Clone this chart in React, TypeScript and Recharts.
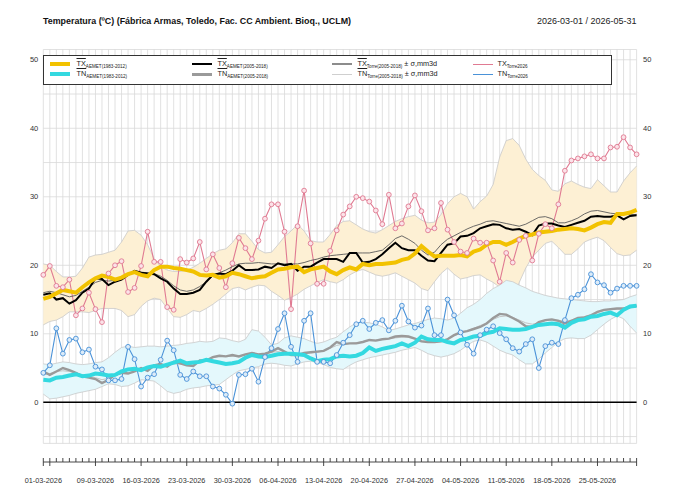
import React from 'react';
import {
  Area,
  CartesianGrid,
  ComposedChart,
  Line,
  ReferenceLine,
  XAxis,
  YAxis,
} from 'recharts';

// ---- data (one per day 01-03 .. 31-05) ----
const startDate = '2026-03-01';
const tickLabels = [
  '01-03-2026', '09-03-2026', '16-03-2026', '23-03-2026', '30-03-2026', '06-04-2026', '13-04-2026',
  '20-04-2026', '27-04-2026', '04-05-2026', '11-05-2026', '18-05-2026', '25-05-2026',
];
const yTicks = [-5, 0, 5, 10, 15, 20, 25, 30, 35, 40, 45, 50];

const txAemet8312 = [
  15.1, 15.4, 15.9, 16.4, 16.2, 16.0, 16.8, 17.5, 18.1, 18.5,
  18.3, 17.9, 18.2, 18.7, 19.0, 18.6, 18.4, 19.3, 19.8, 19.8,
  19.6, 19.5, 19.3, 19.1, 18.6, 18.5, 18.6, 18.2, 18.4, 18.9,
  18.7, 18.4, 18.1, 18.3, 18.4, 18.9, 19.4, 19.5, 19.7, 19.8,
  19.0, 19.4, 19.6, 19.8, 19.1, 18.7, 19.3, 19.7, 19.4, 20.2,
  20.0, 20.2, 20.2, 20.3, 20.4, 20.8, 21.0, 21.7, 22.8, 22.0,
  21.3, 21.4, 21.4, 21.4, 21.5, 21.3, 22.0, 22.3, 23.0, 23.4,
  23.4, 23.0, 23.4, 23.9, 24.3, 24.5, 24.8, 24.9, 25.0, 25.2,
  25.3, 25.4, 25.3, 25.1, 25.5, 26.0, 26.3, 26.2, 27.5, 27.5,
  27.7, 28.1,
];
const tnAemet8312 = [
  3.3, 3.2, 3.6, 3.7, 3.9, 4.1, 3.8, 3.9, 4.2, 4.1,
  3.9, 4.0, 4.5, 4.8, 4.9, 4.7, 5.1, 5.3, 5.2, 5.5,
  5.8, 6.1, 5.7, 5.8, 5.9, 6.2, 6.0, 5.8, 5.6, 5.7,
  5.9, 6.5, 6.9, 6.7, 6.6, 6.8, 7.0, 7.1, 7.1, 7.0,
  6.9, 6.4, 6.0, 6.2, 6.3, 6.7, 6.8, 6.7, 6.8, 7.2,
  8.0, 7.5, 7.8, 8.0, 8.2, 8.6, 8.2, 8.7, 9.6, 9.2,
  9.1, 9.1, 8.8, 8.6, 9.1, 9.3, 9.6, 9.7, 10.1, 10.3,
  10.8, 10.7, 10.6, 10.6, 10.7, 11.0, 11.3, 11.4, 11.5, 11.4,
  10.9, 11.6, 12.0, 12.1, 12.5, 12.6, 12.9, 13.1, 12.7, 13.5,
  14.0, 14.1,
];
const txAemet0518 = [
  15.7, 15.9, 15.0, 15.2, 14.4, 14.9, 16.0, 16.6, 18.1, 18.0,
  17.1, 17.6, 17.9, 18.6, 19.2, 18.9, 18.8, 18.7, 18.1, 17.6,
  16.6, 15.8, 15.8, 16.0, 16.4, 17.6, 18.6, 18.8, 18.7, 19.2,
  20.0, 19.3, 19.3, 19.4, 19.8, 19.6, 20.3, 20.0, 20.2, 19.2,
  19.8, 19.8, 20.4, 20.9, 20.9, 20.9, 20.5, 21.8, 21.8, 20.4,
  20.5, 20.9, 21.6, 22.5, 23.3, 22.5, 22.2, 22.2, 21.4, 20.7,
  20.6, 21.8, 23.0, 23.2, 24.2, 24.3, 24.7, 25.4, 25.7, 26.0,
  25.9, 25.4, 25.2, 25.3, 24.9, 24.4, 25.8, 26.1, 26.1, 25.8,
  25.6, 25.9, 26.2, 26.5, 27.1, 27.2, 27.1, 27.1, 27.3, 26.7,
  27.2, 27.3,
];
const tnAemet0518 = [
  4.5, 4.0, 4.5, 5.0, 4.7, 4.3, 3.8, 3.6, 3.4, 2.8,
  3.3, 4.0, 4.3, 4.2, 4.5, 5.0, 4.6, 5.4, 5.6, 5.2,
  5.9, 5.7, 5.4, 5.3, 6.1, 6.1, 6.6, 6.8, 6.7, 6.9,
  6.7, 7.0, 7.2, 7.0, 7.1, 7.4, 7.9, 7.4, 6.9, 6.9,
  7.2, 7.3, 7.4, 7.5, 8.0, 8.8, 8.5, 8.6, 8.6, 8.8,
  9.1, 9.0, 9.2, 9.3, 9.6, 9.7, 9.6, 9.3, 8.9, 8.8,
  8.8, 8.9, 9.2, 9.8, 10.2, 10.4, 10.7, 11.0, 11.5, 12.3,
  12.9, 12.8, 12.3, 11.8, 11.1, 11.0, 11.7, 12.0, 12.1, 11.9,
  11.5, 11.9, 12.3, 12.4, 12.7, 13.2, 13.5, 13.6, 13.7, 13.7,
  13.9, 14.1,
];
const txTorreMean = [
  16.0, 16.2, 16.0, 15.7, 15.4, 15.6, 16.2, 16.8, 17.5, 17.8,
  17.7, 17.8, 18.1, 18.6, 19.0, 19.0, 18.9, 18.8, 18.4, 17.8,
  17.0, 16.4, 16.2, 16.4, 16.9, 17.6, 18.4, 18.9, 19.3, 19.8,
  20.2, 20.3, 20.3, 20.4, 20.3, 20.2, 20.2, 20.2, 20.2, 20.2,
  20.4, 20.7, 20.9, 21.2, 21.4, 21.5, 21.6, 21.7, 21.8, 21.8,
  21.8, 22.0, 22.2, 23.0, 23.9, 24.3, 23.8, 23.2, 22.2, 21.5,
  21.9, 23.0, 23.8, 24.3, 24.8, 25.3, 25.7, 26.0, 26.4, 26.5,
  26.3, 26.1, 25.9, 25.7, 26.0, 26.5, 27.0, 27.1, 26.8, 26.2,
  26.2, 26.5, 26.9, 27.5, 27.9, 28.0, 27.8, 27.6, 27.5, 27.5,
  27.4, 27.4,
];
const txTorreHi = [
  20.2, 20.0, 19.1, 18.3, 18.3, 18.4, 19.6, 21.2, 21.5, 21.6,
  21.9, 22.2, 23.4, 25.0, 25.1, 24.4, 23.0, 21.0, 19.8, 19.3,
  19.1, 19.1, 19.3, 19.7, 20.3, 21.0, 21.7, 22.2, 22.4, 23.3,
  24.6, 24.6, 23.5, 22.3, 21.8, 21.9, 23.0, 24.2, 25.0, 26.0,
  25.0, 23.6, 23.4, 23.4, 24.5, 25.8, 26.4, 26.5, 25.9, 25.3,
  24.9, 24.7, 25.2, 25.8, 26.4, 26.8, 27.1, 27.3, 26.6, 26.2,
  26.3, 27.4, 29.0, 30.0, 30.5, 30.0, 28.2, 29.3, 30.1, 31.8,
  35.8, 38.2, 38.5, 37.5, 35.5, 34.0, 33.1, 32.4, 31.0, 30.8,
  31.9, 32.3, 31.8, 31.4, 31.2, 32.5, 31.6, 30.7, 30.7, 32.3,
  33.5, 34.5,
];
const txTorreLo = [
  11.3, 11.8, 12.0, 12.5, 13.2, 13.2, 13.2, 13.1, 13.4, 13.7,
  13.7, 13.7, 13.4, 12.5, 12.8, 14.0, 14.8, 15.2, 15.0, 13.7,
  12.5, 12.4, 12.8, 13.4, 13.2, 13.7, 14.3, 15.0, 15.8, 16.6,
  16.8, 16.4, 16.8, 17.1, 17.0, 16.2, 15.6, 14.9, 15.3, 15.8,
  16.5, 17.0, 17.5, 17.9, 17.6, 17.4, 17.9, 18.6, 19.1, 19.4,
  19.0, 18.6, 18.4, 18.6, 18.9, 18.4, 17.9, 17.4, 16.6, 16.3,
  17.6, 18.8, 19.6, 18.7, 18.0, 18.2, 18.5, 18.6, 18.0, 17.5,
  16.8, 15.0, 15.1, 17.5, 19.6, 21.2, 22.2, 23.2, 23.5, 22.6,
  21.6, 21.6, 22.4, 23.4, 23.8, 24.1, 23.6, 22.6, 21.7, 21.4,
  21.5, 22.2,
];
const tnTorreMean = [
  4.0, 4.2, 4.5, 4.6, 4.5, 4.3, 4.0, 3.8, 3.6, 3.3,
  3.5, 3.9, 4.2, 4.3, 4.5, 4.8, 4.9, 5.1, 5.3, 5.4,
  5.6, 5.6, 5.5, 5.6, 5.9, 6.2, 6.5, 6.7, 6.7, 6.7,
  6.8, 6.9, 7.0, 7.0, 7.1, 7.3, 7.4, 7.2, 7.0, 7.0,
  7.1, 7.2, 7.3, 7.5, 7.9, 8.3, 8.5, 8.6, 8.7, 8.8,
  9.0, 9.1, 9.2, 9.3, 9.4, 9.5, 9.5, 9.3, 9.0, 8.9,
  8.9, 9.0, 9.3, 9.7, 10.1, 10.4, 10.8, 11.2, 11.6, 12.1,
  12.5, 12.6, 12.4, 12.0, 11.6, 11.4, 11.6, 11.9, 12.0, 12.0,
  11.8, 12.0, 12.3, 12.5, 12.8, 13.1, 13.4, 13.5, 13.6, 13.6,
  13.8, 14.0,
];
const tnTorreHi = [
  5.6, 5.5, 5.7, 5.9, 5.8, 5.6, 5.5, 5.6, 5.8, 5.9,
  6.5, 7.3, 8.0, 8.2, 8.0, 8.1, 8.2, 8.2, 8.1, 8.2,
  8.3, 8.4, 8.6, 8.7, 8.9, 8.8, 8.9, 9.4, 9.3, 9.0,
  8.8, 9.2, 10.6, 10.4, 9.5, 8.4, 8.6, 9.4, 9.7, 9.5,
  9.3, 8.9, 8.6, 8.8, 9.2, 9.5, 10.3, 11.0, 11.6, 11.7,
  11.6, 11.4, 11.0, 10.5, 10.7, 11.0, 11.3, 11.5, 11.8, 12.1,
  12.3, 12.2, 12.0, 12.3, 13.0, 13.8, 14.3, 15.0, 15.9, 16.6,
  17.1, 17.8, 17.6, 17.1, 16.7, 16.2, 15.9, 15.6, 15.4, 15.2,
  15.1, 15.0, 14.9, 14.8, 14.7, 14.7, 14.8, 14.8, 14.9, 15.0,
  15.4, 15.7,
];
const tnTorreLo = [
  1.2, 0.5, 0.6, 0.8, 1.0, 1.3, 1.5, 1.7, 1.9, 2.3,
  2.7, 2.6, 2.3, 2.4, 2.8, 3.3, 3.2, 3.1, 2.4, 1.6,
  1.3, 1.5, 1.9, 2.1, 2.2, 2.4, 2.5, 2.6, 3.3, 4.0,
  4.6, 4.8, 5.0, 5.2, 5.6, 5.7, 5.6, 5.4, 5.3, 5.6,
  5.9, 6.0, 5.8, 5.5, 5.1, 4.9, 4.8, 5.4, 5.9, 6.2,
  6.5, 6.7, 6.9, 7.1, 7.3, 7.6, 7.8, 8.0, 7.6, 7.1,
  6.8, 6.6, 6.8, 7.1, 7.6, 8.3, 8.9, 9.1, 8.8, 8.2,
  7.6, 7.2, 6.9, 6.2, 5.6, 5.6, 6.3, 7.2, 8.0, 8.8,
  9.3, 9.4, 9.3, 9.3, 9.8, 10.6, 11.4, 12.1, 12.6, 12.2,
  11.1, 10.1,
];
const txTorre2026 = [
  18.6, 19.9, 17.0, 16.8, 17.9, 12.7, 13.7, 16.0, 13.6, 11.7,
  18.8, 20.0, 20.6, 16.1, 16.7, 19.9, 24.9, 20.5, 20.5, 13.9,
  13.5, 20.9, 20.4, 21.0, 23.4, 19.4, 21.6, 19.6, 16.8, 20.3,
  24.0, 22.5, 20.9, 23.6, 26.8, 28.9, 28.9, 24.9, 13.6, 25.7,
  30.9, 23.2, 17.3, 17.3, 22.1, 25.1, 27.4, 28.6, 30.0, 29.8,
  29.3, 28.0, 26.0, 30.3, 25.4, 26.1, 28.6, 30.2, 27.9, 25.1,
  25.4, 29.1, 25.2, 23.4, 22.0, 21.8, 23.9, 23.3, 23.3, 20.7,
  17.6, 21.8, 20.4, 23.7, 24.3, 20.7, 24.6, 26.0, 25.4, 28.9,
  33.8, 35.3, 35.6, 35.9, 36.2, 35.6, 35.6, 37.2, 37.3, 38.7,
  37.2, 36.2,
];
const tnTorre2026 = [
  4.3, 5.4, 10.8, 7.1, 9.1, 9.3, 7.3, 7.7, 5.2, 4.8,
  3.2, 3.2, 3.4, 8.1, 6.3, 2.3, 3.6, 4.1, 6.2, 9.0,
  7.6, 4.0, 3.4, 4.5, 3.8, 3.8, 2.3, 2.0, 1.1, -0.2,
  4.0, 4.1, 4.9, 3.0, 6.6, 7.9, 10.7, 13.0, 8.1, 5.9,
  11.9, 13.0, 5.9, 5.9, 5.7, 6.9, 8.7, 9.8, 11.4, 11.9,
  10.7, 11.6, 12.0, 10.5, 11.9, 14.1, 11.8, 10.9, 11.2, 13.7,
  9.8, 9.8, 15.0, 12.7, 10.2, 8.4, 7.1, 9.8, 10.6, 11.1,
  10.1, 9.2, 7.9, 7.4, 8.5, 9.2, 5.0, 8.2, 8.7, 8.5,
  12.0, 15.2, 15.7, 16.5, 18.7, 17.5, 17.1, 16.0, 16.6, 17.0,
  17.0, 17.0,
];

// ---- layout ----
const W = 680;
const H = 490;
const PLOT_L = 43.3;
const PLOT_R = 636.6;
const PLOT_T = 49.5;
const PLOT_B = 443.4;
const Y_W = 30;
const X_H = 40;
const AXIS_Y = 462;
const LEGEND_R = 613;
const FONT = '"Liberation Sans", Arial, Helvetica, sans-serif';

const DAY_MS = 86400000;
const t0 = Date.parse(startDate + 'T00:00:00Z');
const days = txAemet8312.map((_, i) => i);
const lastDay = days[days.length - 1];
const dayW = (PLOT_R - PLOT_L) / lastDay;

const labelByDay = new Map<number, string>();
tickLabels.forEach((s) => {
  const [dd, mm, yy] = s.split('-').map(Number);
  labelByDay.set(Math.round((Date.UTC(yy, mm - 1, dd) - t0) / DAY_MS), s);
});
const isMonday = (d: number) => new Date(t0 + d * DAY_MS).getUTCDay() === 1;

const rows = days.map((d) => ({
  d,
  txA83: txAemet8312[d],
  tnA83: tnAemet8312[d],
  txA05: txAemet0518[d],
  tnA05: tnAemet0518[d],
  txTm: txTorreMean[d],
  tnTm: tnTorreMean[d],
  txBand: [txTorreLo[d], txTorreHi[d]],
  tnBand: [tnTorreLo[d], tnTorreHi[d]],
  tx26: txTorre2026[d],
  tn26: tnTorre2026[d],
}));

const DayTick = (props: any) => {
  const { x, payload } = props;
  const d = payload.value as number;
  const major = d === 0 || d === lastDay || isMonday(d);
  const label = labelByDay.get(d);
  return (
    <g>
      {d < lastDay && (
        <line x1={x} x2={x + dayW} y1={AXIS_Y} y2={AXIS_Y} stroke="#333" strokeWidth={0.9} />
      )}
      <line x1={x} x2={x} y1={AXIS_Y - 4} y2={major ? AXIS_Y + 4 : AXIS_Y} stroke="#333" strokeWidth={0.9} />
      {label && (
        <text x={x} y={AXIS_Y + 21} textAnchor="middle" fontSize={7.3} fill="#333" fontFamily={FONT}>
          {label}
        </text>
      )}
    </g>
  );
};

const YTick = (side: 'l' | 'r') => (props: any) => {
  const { y, payload } = props;
  const v = payload.value as number;
  if (v < 0 || v % 10 !== 0) return <g />;
  return (
    <text
      x={side === 'l' ? PLOT_L - 5 : PLOT_R + 6.5}
      y={y}
      dy={2.6}
      textAnchor={side === 'l' ? 'end' : 'start'}
      fontSize={7.5}
      fill="#333"
      fontFamily={FONT}
    >
      {v}
    </text>
  );
};

const legendRows = [64.3, 74.3];
const legendCols = [
  { lineX: 50, textX: 76 },
  { lineX: 192, textX: 217 },
  { lineX: 332, textX: 357 },
  { lineX: 473, textX: 497 },
];
const legendItems = [
  { col: 0, row: 0, color: '#f2c200', w: 4, main: 'TX', sub: 'AEMET(1983-2012)', over: true, tail: '' },
  { col: 0, row: 1, color: '#33d9e0', w: 4, main: 'TN', sub: 'AEMET(1983-2012)', over: true, tail: '' },
  { col: 1, row: 0, color: '#000000', w: 2.2, main: 'TX', sub: 'AEMET(2005-2018)', over: true, tail: '' },
  { col: 1, row: 1, color: '#9a9a9a', w: 2.5, main: 'TN', sub: 'AEMET(2005-2018)', over: true, tail: '' },
  { col: 2, row: 0, color: '#8c8c8c', w: 2, main: 'TX', sub: 'Torre(2005-2018)', over: true, tail: '± σ,mm3d' },
  { col: 2, row: 1, color: '#cfcfcf', w: 1.5, main: 'TN', sub: 'Torre(2005-2018)', over: true, tail: '± σ,mm3d' },
  { col: 3, row: 0, color: '#e07a92', w: 1.5, main: 'TX', sub: 'Torre2026', over: false, tail: '' },
  { col: 3, row: 1, color: '#4a92d8', w: 1.5, main: 'TN', sub: 'Torre2026', over: false, tail: '' },
];

function ChartLegend() {
  return (
    <div
      style={{
        position: 'absolute',
        left: PLOT_L - 0.5,
        top: 54.7,
        width: LEGEND_R - PLOT_L,
        height: 30.5,
        boxSizing: 'border-box',
        border: '1px solid #333',
        background: '#fff',
      }}
    >
      {legendItems.map((it) => {
        const cy = legendRows[it.row] - 54.7 - 1;
        const c = legendCols[it.col];
        return (
          <React.Fragment key={it.col + '-' + it.row}>
            <div
              style={{
                position: 'absolute',
                left: c.lineX - PLOT_L,
                top: cy - it.w / 2,
                width: 20,
                height: it.w,
                background: it.color,
              }}
            />
            <div
              style={{
                position: 'absolute',
                left: c.textX - PLOT_L,
                top: cy - 5,
                height: 10,
                lineHeight: '10px',
                fontSize: 7.3,
                color: '#222',
                whiteSpace: 'nowrap',
                fontFamily: FONT,
              }}
            >
              <span style={{ textDecoration: it.over ? 'overline' : 'none' }}>{it.main}</span>
              <span style={{ fontSize: 4.6, position: 'relative', top: 1.8 }}>{it.sub}</span>
              {it.tail && <span> {it.tail}</span>}
            </div>
          </React.Fragment>
        );
      })}
    </div>
  );
}

export default function App() {
  return (
    <div style={{ position: 'absolute', left: 0, top: 0, width: W, height: H, background: '#fff', fontFamily: FONT }}>
      <ComposedChart
        width={W}
        height={H}
        data={rows}
        margin={{ top: PLOT_T, right: W - PLOT_R - Y_W, bottom: H - PLOT_B - X_H, left: PLOT_L - Y_W }}
      >
        <CartesianGrid stroke="#d9d9d9" strokeWidth={0.8} />
        <XAxis
          dataKey="d"
          type="number"
          domain={[0, lastDay]}
          ticks={days}
          interval={0}
          height={X_H}
          axisLine={false}
          tickLine={false}
          tick={DayTick}
        />
        <YAxis
          type="number"
          domain={[-6, 51.5]}
          ticks={yTicks}
          interval={0}
          width={Y_W}
          allowDataOverflow
          axisLine={false}
          tickLine={false}
          tick={YTick('l')}
        />
        <YAxis
          yAxisId="r"
          orientation="right"
          type="number"
          domain={[-6, 51.5]}
          ticks={yTicks}
          interval={0}
          width={Y_W}
          allowDataOverflow
          axisLine={false}
          tickLine={false}
          tick={YTick('r')}
        />
        <Area
          type="linear"
          dataKey="txBand"
          fill="#fdf0d4"
          fillOpacity={1}
          stroke="#c9c9c9"
          strokeWidth={0.8}
          dot={false}
          activeDot={false}
          isAnimationActive={false}
        />
        <Area
          type="linear"
          dataKey="tnBand"
          fill="#e4f8fc"
          fillOpacity={1}
          stroke="#c9c9c9"
          strokeWidth={0.8}
          dot={false}
          activeDot={false}
          isAnimationActive={false}
        />
        <ReferenceLine y={0} stroke="#000" strokeWidth={1.6} />
        <Line
          type="linear"
          dataKey="tx26"
          stroke="#e07a92"
          strokeWidth={1.1}
          dot={{ r: 2.4, stroke: '#e07a92', strokeWidth: 0.9, fill: '#fbe2e8' }}
          activeDot={false}
          isAnimationActive={false}
        />
        <Line
          type="linear"
          dataKey="tn26"
          stroke="#4a92d8"
          strokeWidth={1.1}
          dot={{ r: 2.4, stroke: '#4a92d8', strokeWidth: 0.9, fill: '#dcebf8' }}
          activeDot={false}
          isAnimationActive={false}
        />
        <Line type="linear" dataKey="tnTm" stroke="#c4c4c4" strokeWidth={1} dot={false} activeDot={false} isAnimationActive={false} />
        <Line type="linear" dataKey="txTm" stroke="#5a5a5a" strokeWidth={0.9} dot={false} activeDot={false} isAnimationActive={false} />
        <Line type="linear" dataKey="tnA05" stroke="#9a9a9a" strokeWidth={2.4} dot={false} activeDot={false} isAnimationActive={false} />
        <Line type="linear" dataKey="txA05" stroke="#000000" strokeWidth={2} dot={false} activeDot={false} isAnimationActive={false} />
        <Line type="linear" dataKey="txA83" stroke="#f2c200" strokeWidth={4} dot={false} activeDot={false} isAnimationActive={false} />
        <Line type="linear" dataKey="tnA83" stroke="#33d9e0" strokeWidth={4} dot={false} activeDot={false} isAnimationActive={false} />
      </ComposedChart>
      <svg width={W} height={40} style={{ position: 'absolute', left: 0, top: 0 }}>
        <text x={43} y={24} fontSize={9} fontWeight="bold" fill="#111" fontFamily={FONT} textLength={308} lengthAdjust="spacingAndGlyphs">
          Temperatura (ºC) (Fábrica Armas, Toledo, Fac. CC Ambient. Bioq., UCLM)
        </text>
        <text x={PLOT_R} y={24} fontSize={9} fill="#222" fontFamily={FONT} textAnchor="end">
          2026-03-01 / 2026-05-31
        </text>
      </svg>
      <ChartLegend />
    </div>
  );
}
